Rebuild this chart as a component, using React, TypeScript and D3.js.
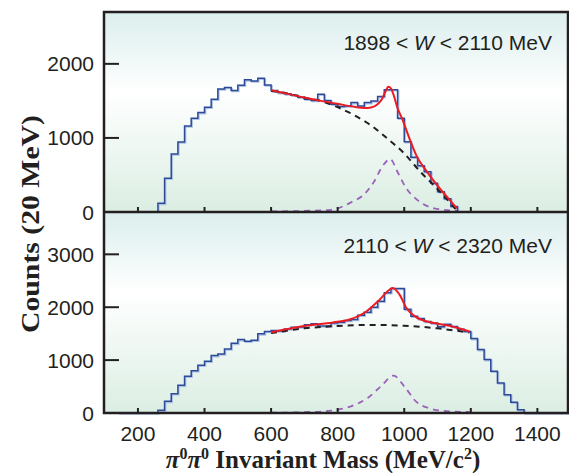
import React from "react";
import * as d3 from "d3";

// ---------- data ----------
const binWidth = 20;
const topBinStart = 260;
const topCounts = [117, 455, 784, 946, 1162, 1266, 1342, 1414, 1523, 1662, 1680, 1640, 1712, 1784, 1770, 1806, 1716, 1640, 1612, 1595, 1577, 1550, 1523, 1505, 1590, 1505, 1455, 1425, 1430, 1477, 1432, 1477, 1500, 1560, 1650, 1650, 1266, 950, 740, 626, 545, 387, 275, 180, 75];

const bottomBinStart = 140;
const bottomCounts = [0, 0, 0, 0, 0, 0, 50, 220, 366, 523, 694, 801, 902, 977, 1085, 1117, 1211, 1317, 1388, 1356, 1375, 1496, 1540, 1559, 1550, 1589, 1620, 1625, 1670, 1685, 1645, 1645, 1700, 1717, 1750, 1768, 1850, 1906, 2000, 2112, 2275, 2356, 2356, 1960, 1830, 1785, 1730, 1700, 1630, 1680, 1636, 1585, 1540, 1407, 1199, 1010, 788, 568, 347, 202, 63, 0, 0, 0, 0, 0, 0, 0];

const topTotalFit: [number, number][] = [[600, 1645], [650, 1595], [700, 1545], [750, 1500], [800, 1460], [850, 1420], [880, 1405], [900, 1412], [920, 1455], [935, 1540], [945, 1640], [952, 1690], [960, 1668], [968, 1581], [980, 1401], [993, 1266], [1008, 1085], [1023, 905], [1038, 748], [1068, 545], [1098, 365], [1128, 207], [1158, 50]];
const topBackground: [number, number][] = [[600, 1635], [650, 1600], [706, 1536], [748, 1500], [800, 1415], [848, 1311], [900, 1170], [948, 996], [1000, 790], [1048, 545], [1100, 310], [1148, 72], [1158, 20]];
const topSignal: [number, number][] = [[600, 8], [700, 15], [780, 30], [840, 130], [880, 240], [908, 400], [935, 620], [958, 714], [980, 540], [1003, 342], [1040, 160], [1090, 50], [1160, 15]];

const bottomTotalFit: [number, number][] = [[600, 1527], [650, 1590], [700, 1645], [786, 1711], [836, 1768], [886, 1919], [926, 2142], [956, 2332], [966, 2365], [986, 2237], [1006, 1990], [1036, 1812], [1086, 1705], [1136, 1648], [1196, 1541]];
const bottomBackground: [number, number][] = [[600, 1510], [700, 1600], [800, 1645], [900, 1665], [1000, 1650], [1100, 1600], [1196, 1521]];
const bottomSignal: [number, number][] = [[600, 5], [700, 15], [780, 44], [840, 126], [890, 284], [930, 505], [968, 706], [1000, 505], [1035, 220], [1080, 82], [1110, 44], [1196, 19]];

const xTicks = [200, 400, 600, 800, 1000, 1200, 1400];
const topYTicks = [0, 1000, 2000];
const bottomYTicks = [0, 1000, 2000, 3000];
const topLabel = ["1898 < ", "W", " < 2110 MeV"];
const bottomLabel = ["2110 < ", "W", " < 2320 MeV"];

// ---------- layout ----------
const W = 569, H = 473;
const left = 104, right = 568;
const topY0 = 12, midY = 212, botY = 413;
const ink = "#231f20";
const sans = "'Liberation Sans', Arial, sans-serif";
const serif = "'Liberation Serif', 'Times New Roman', serif";

const x = d3.scaleLinear().domain([98, 1492]).range([left, right]);
const yTop = d3.scaleLinear().domain([0, 2700]).range([midY, topY0]);
const yBot = d3.scaleLinear().domain([0, 3800]).range([botY, midY]);

function histPath(start: number, counts: number[], y: d3.ScaleLinear<number, number>) {
  const pts: [number, number][] = [];
  counts.forEach((c, i) => {
    const a = Math.max(start + i * binWidth, 98);
    const b = Math.min(start + (i + 1) * binWidth, 1492);
    pts.push([x(a), y(c)]);
    pts.push([x(b), y(c)]);
  });
  const first = counts[0];
  const last = counts[counts.length - 1];
  const head: [number, number][] = first > 0 ? [[x(start), y(0)]] : [];
  const tail: [number, number][] = last > 0 ? [[x(start + counts.length * binWidth), y(0)]] : [];
  return d3.line()([...head, ...pts, ...tail]) || "";
}

function curve(data: [number, number][], y: d3.ScaleLinear<number, number>) {
  return d3.line<[number, number]>().x((d) => x(d[0])).y((d) => y(d[1])).curve(d3.curveMonotoneX)(data) || "";
}

function Panel({ y, y0, y1, counts, start, total, bg, sig, yTicks, label, gid, labelY }: any) {
  return (
    <g>
      <rect x={left} y={y0} width={right - left} height={y1 - y0} fill={`url(#${gid})`} />
      <path d={curve(sig, y)} fill="none" stroke="#9a62b8" strokeWidth={1.8} strokeDasharray="6,5" />
      <path d={histPath(start, counts, y)} fill="none" stroke="#aec2e4" strokeWidth={1.6} transform="translate(1,1)" />
      <path d={histPath(start, counts, y)} fill="none" stroke="#2c4a98" strokeWidth={1.5} />
      <path d={curve(bg, y)} fill="none" stroke={ink} strokeWidth={2} strokeDasharray="6,5" />
      <path d={curve(total, y)} fill="none" stroke="#ec1c24" strokeWidth={2} />
      {yTicks.map((t: number) => (
        <g key={t}>
          {t > 0 && <line x1={left} x2={left + 15} y1={y(t)} y2={y(t)} stroke={ink} strokeWidth={2} />}
          <text x={94} y={y(t)} dy="0.36em" textAnchor="end" fontSize={21} fill={ink} fontFamily={sans}>{t}</text>
        </g>
      ))}
      {xTicks.map((t) => (
        <line key={t} x1={x(t)} x2={x(t)} y1={y1} y2={y1 - 5} stroke={ink} strokeWidth={2} />
      ))}
      <text x={552} y={labelY} textAnchor="end" fontSize={21} fill={ink} fontFamily={sans}>
        <tspan>{label[0]}</tspan><tspan fontStyle="italic">{label[1]}</tspan><tspan>{label[2]}</tspan>
      </text>
    </g>
  );
}

export default function App() {
  return (
    <svg width={W} height={H} style={{ position: "absolute", left: 0, top: 0, background: "#fff" }}>
      <defs>
        <linearGradient id="gTop" x1="0" y1="0" x2="0" y2="1">
          <stop offset="0" stopColor="#dbeeed" />
          <stop offset="0.4" stopColor="#ffffff" />
          <stop offset="1" stopColor="#dbeee3" />
        </linearGradient>
        <linearGradient id="gBot" x1="0" y1="0" x2="0" y2="1">
          <stop offset="0" stopColor="#dbeeed" />
          <stop offset="0.4" stopColor="#ffffff" />
          <stop offset="1" stopColor="#dbeee3" />
        </linearGradient>
      </defs>
      <Panel y={yTop} y0={topY0} y1={midY} counts={topCounts} start={topBinStart} total={topTotalFit}
        bg={topBackground} sig={topSignal} yTicks={topYTicks} label={topLabel} gid="gTop" labelY={50} />
      <Panel y={yBot} y0={midY} y1={botY} counts={bottomCounts} start={bottomBinStart} total={bottomTotalFit}
        bg={bottomBackground} sig={bottomSignal} yTicks={bottomYTicks} label={bottomLabel} gid="gBot" labelY={253} />
      <rect x={left} y={topY0} width={right - left} height={botY - topY0} fill="none" stroke={ink} strokeWidth={2.5} />
      <line x1={left} x2={right} y1={midY} y2={midY} stroke={ink} strokeWidth={2.5} />
      {xTicks.map((t) => (
        <text key={t} x={x(t)} y={441} textAnchor="middle" fontSize={21} fill={ink} fontFamily={sans}>{t}</text>
      ))}
      <text x={323} y={468} textAnchor="middle" fontSize={25} fontWeight="bold" fill={ink} fontFamily={serif}>
        <tspan fontStyle="italic">π</tspan><tspan fontSize={16} dy={-9}>0</tspan>
        <tspan fontStyle="italic" dy={9}>π</tspan><tspan fontSize={16} dy={-9}>0</tspan>
        <tspan dy={9}> Invariant Mass (MeV/c</tspan><tspan fontSize={16} dy={-9}>2</tspan><tspan dy={9}>)</tspan>
      </text>
      <text transform="translate(39,224) rotate(-90)" textAnchor="middle" fontSize={25} fontWeight="bold" fill={ink}
        fontFamily={serif} textLength={218} lengthAdjust="spacingAndGlyphs">
        Counts (20 MeV)
      </text>
    </svg>
  );
}
